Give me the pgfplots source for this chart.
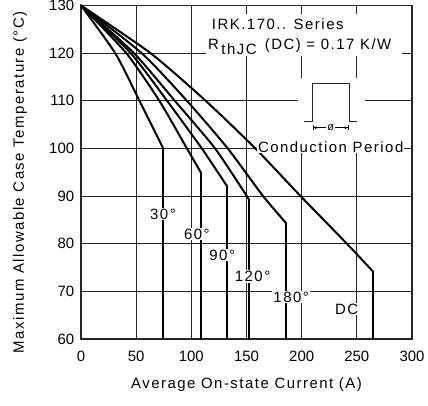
\documentclass[border=0pt]{standalone}
\usepackage{fontspec}
\setmainfont{Liberation Sans}
\newfontfamily\lsp[LetterSpace=10]{Liberation Sans}
\usepackage{pgfplots}
\pgfplotsset{compat=1.18}
\usetikzlibrary{arrows.meta}
\begin{document}
\begin{tikzpicture}
\useasboundingbox (-81bp,-67bp) rectangle (347bp,339bp);
\begin{axis}[
  at={(0,0)}, anchor=south west,
  scale only axis, width=331bp, height=333.5bp,
  xmin=0, xmax=300, ymin=60, ymax=130,
  xtick={0,50,...,300}, ytick={60,70,...,130},
  grid=major,
  major grid style={black!85, line width=1.1bp},
  axis line style={black!85, line width=1.1bp},
  major tick length=0pt,
  /pgf/number format/assume math mode=true,
  tick label style={font=\fontsize{15}{15}\selectfont},
  xticklabel style={yshift=-8.5bp},
  yticklabel style={xshift=-3.3bp},
  xlabel={Average On-state Current (A)},
  ylabel={Maximum Allowable Case Temperature (°C)},
  label style={font=\lsp\fontsize{15}{15}\selectfont},
  xlabel style={at={(axis description cs:0.5,-0.138)}, anchor=center},
  ylabel style={at={(axis description cs:-0.184,0.47)}, anchor=center},
  clip=false,
  curve/.style={black, line width=2bp, line join=round, line cap=round},
]
% 30 deg
\addplot[curve, smooth, tension=0.4] coordinates {(0,130) (31,120) (53,110) (74.5,100)};
\addplot[curve] coordinates {(74.5,100) (74.5,60)};
% 60 deg
\addplot[curve, smooth, tension=0.4] coordinates {(0,130) (41,120) (71,110) (96,100) (108.5,95)};
\addplot[curve] coordinates {(108.5,95) (108.5,60)};
% 90 deg
\addplot[curve, smooth, tension=0.4] coordinates {(0,130) (45,120) (78,110) (109.5,100) (132,92.2)};
\addplot[curve] coordinates {(132,92.2) (132,60)};
% 120 deg
\addplot[curve, smooth, tension=0.4] coordinates {(0,130) (48,120) (85,110) (121.5,100) (152.5,89.2)};
\addplot[curve] coordinates {(152.5,89.2) (152.5,60)};
% 180 deg
\addplot[curve, smooth, tension=0.4] coordinates {(0,130) (55,120) (96,110) (133,100) (165,90) (186,84.3)};
\addplot[curve] coordinates {(186,84.3) (186,60)};
% DC
\addplot[curve, smooth, tension=0.4] coordinates {(0,130) (63,120) (113,110) (158,100) (199,90) (241,80) (264.5,74.2)};
\addplot[curve] coordinates {(264.5,74.2) (264.5,60)};

% white areas behind annotations
\fill[white] (axis cs:113.5,128.3) rectangle (axis cs:291,119.3);
\fill[white] (axis cs:196.7,114.8) rectangle (axis cs:257.5,99.2);

\node[anchor=base west, font=\lsp\fontsize{15}{15}\selectfont, inner sep=0pt]
  at (axis cs:118.5,124.86) {IRK.170.. Series};
\node[anchor=base west, font=\lsp\fontsize{15}{15}\selectfont, inner sep=0pt]
  at (axis cs:115.1,120.66) {R\,\raisebox{-4.5bp}{thJC}\, (DC) = 0.17 K/W};

% pulse symbol
\draw[black!85, line width=0.9bp] (axis cs:202.1,105.76) -- (axis cs:209.6,105.76)
  -- (axis cs:209.6,113.67) -- (axis cs:242.9,113.67) -- (axis cs:242.9,105.76)
  -- (axis cs:249.9,105.76);
\node[font=\fontsize{11}{11}\selectfont, inner sep=1bp] (phi) at (axis cs:226.3,104.35) {ø};
\draw[black, line width=0.8bp, -{Latex[length=3bp,width=3bp]Bar[width=5bp]}]
  (phi.west) -- (axis cs:209.9,104.35);
\draw[black, line width=0.8bp, -{Latex[length=3bp,width=3bp]Bar[width=5bp]}]
  (phi.east) -- (axis cs:242.6,104.35);

\node[fill=white, font=\lsp\fontsize{15}{15}\selectfont, inner sep=1bp]
  at (axis cs:226.3,100.3) {Conduction Period};

% angle labels
\node[fill=white, font=\lsp\fontsize{15}{15}\selectfont, inner sep=1bp] at (axis cs:74.3,86.2) {30°};
\node[fill=white, font=\lsp\fontsize{15}{15}\selectfont, inner sep=1bp] at (axis cs:105,82) {60°};
\node[fill=white, font=\lsp\fontsize{15}{15}\selectfont, inner sep=1bp] at (axis cs:128,77.6) {90°};
\node[fill=white, font=\lsp\fontsize{15}{15}\selectfont, inner sep=1bp] at (axis cs:155.5,73.1) {120°};
\node[fill=white, font=\lsp\fontsize{15}{15}\selectfont, inner sep=1bp] at (axis cs:190.5,68.8) {180°};
\node[fill=white, font=\lsp\fontsize{15}{15}\selectfont, inner sep=1bp] at (axis cs:240.7,66.3) {DC};
\end{axis}
\end{tikzpicture}
\end{document}
